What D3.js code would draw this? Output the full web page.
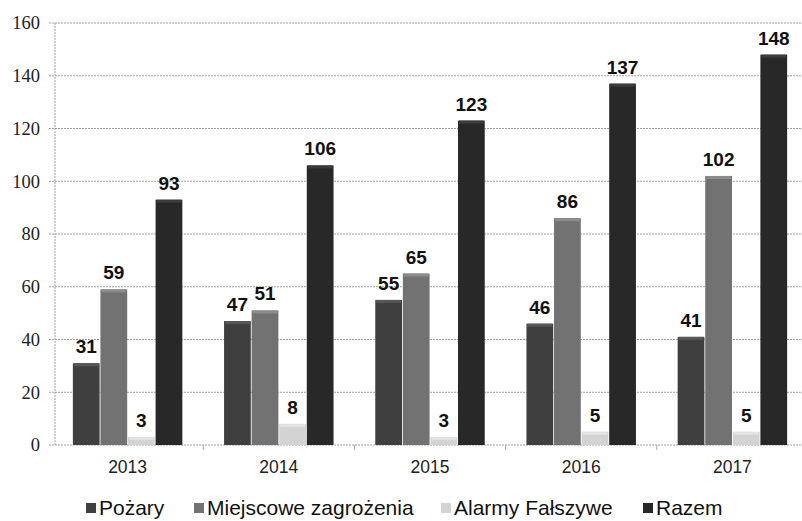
<!DOCTYPE html>
<html><head><meta charset="utf-8">
<script src="https://cdn.jsdelivr.net/npm/d3@7"></script>
<style>body{margin:0;background:#fff}svg{display:block}</style>
</head><body>
<svg id="c" width="802" height="521"></svg>
<script>
const years = ["2013","2014","2015","2016","2017"];
const seriesNames = ["Pożary","Miejscowe zagrożenia","Alarmy Fałszywe","Razem"];
const pozary = [31,47,55,46,41];
const miejscowe = [59,51,65,86,102];
const alarmy = [3,8,3,5,5];
const razem = [93,106,123,137,148];
const yTicks = [0,20,40,60,80,100,120,140,160];
const colors = ["#3f3f3f","#727272","#d3d3d3","#282828"];
const topColors = ["#575757","#8c8c8c","#e2e2e2","#3c3c3c"];
const values = [pozary, miejscowe, alarmy, razem];

const svg = d3.select("#c");
const y = d3.scaleLinear().domain([0,160]).range([445,23]);
const x0 = d3.scaleBand().domain(years).range([52,808]).paddingInner(0.265).paddingOuter(0.1325);
const x1 = d3.scaleBand().domain(seriesNames).range([0,x0.bandwidth()]).padding(0.03);

// grid
svg.append("g").selectAll("line").data(yTicks).join("line")
  .attr("x1",49).attr("x2",802).attr("y1",d=>y(d)).attr("y2",d=>y(d))
  .attr("stroke","#a0a0a0").attr("stroke-width",1).attr("stroke-dasharray","2,1");
// y axis line
svg.append("line").attr("x1",55).attr("x2",55).attr("y1",y(160)).attr("y2",y(0))
  .attr("stroke","#a0a0a0").attr("stroke-dasharray","2,1");
// category ticks
svg.append("g").selectAll("line").data(years.slice(1)).join("line")
  .attr("x1",d=>x0(d)-x0.step()*0.265/2).attr("x2",d=>x0(d)-x0.step()*0.265/2)
  .attr("y1",y(0)).attr("y2",y(0)+5).attr("stroke","#aaa");

// y labels
svg.append("g").selectAll("text").data(yTicks).join("text")
  .attr("x",40).attr("y",d=>y(d)).attr("dy","0.35em").attr("text-anchor","end")
  .attr("font-family","Liberation Serif, Times New Roman, serif").attr("font-size",18.5).attr("fill","#222")
  .text(d=>d);
// x labels
svg.append("g").selectAll("text").data(years).join("text")
  .attr("x",d=>x0(d)+x0.bandwidth()/2).attr("y",473).attr("text-anchor","middle")
  .attr("font-family","Liberation Sans, Arial, sans-serif").attr("font-size",17.5).attr("fill","#222")
  .text(d=>d);

// bars
const data = [];
years.forEach((yr,i)=>seriesNames.forEach((s,j)=>data.push({yr,s,j,v:values[j][i]})));
const g = svg.append("g");
g.selectAll("rect.bar").data(data).join("rect").attr("class","bar")
  .attr("x",d=>x0(d.yr)+x1(d.s)).attr("width",x1.bandwidth())
  .attr("y",d=>y(d.v)).attr("height",d=>y(0)-y(d.v))
  .attr("fill",d=>colors[d.j]);
g.selectAll("rect.top").data(data).join("rect").attr("class","top")
  .attr("x",d=>x0(d.yr)+x1(d.s)+1).attr("width",x1.bandwidth()-2)
  .attr("y",d=>y(d.v)).attr("height",d=>Math.min(3,y(0)-y(d.v)))
  .attr("fill",d=>topColors[d.j]);
g.selectAll("text").data(data).join("text")
  .attr("x",d=>x0(d.yr)+x1(d.s)+x1.bandwidth()/2).attr("y",d=>y(d.v)-10)
  .attr("text-anchor","middle").attr("font-family","Liberation Sans, Arial, sans-serif")
  .attr("font-weight","bold").attr("font-size",19).attr("fill","#111")
  .text(d=>d.v);

// legend
const legX = [86,194,441,643];
const lg = svg.append("g");
seriesNames.forEach((s,j)=>{
  lg.append("rect").attr("x",legX[j]).attr("y",503).attr("width",10).attr("height",10).attr("fill",colors[j]);
  lg.append("text").attr("x",legX[j]+13).attr("y",515)
    .attr("font-family","Liberation Sans, Arial, sans-serif").attr("font-size",21).attr("fill","#111").text(s);
});
</script>
</body></html>
